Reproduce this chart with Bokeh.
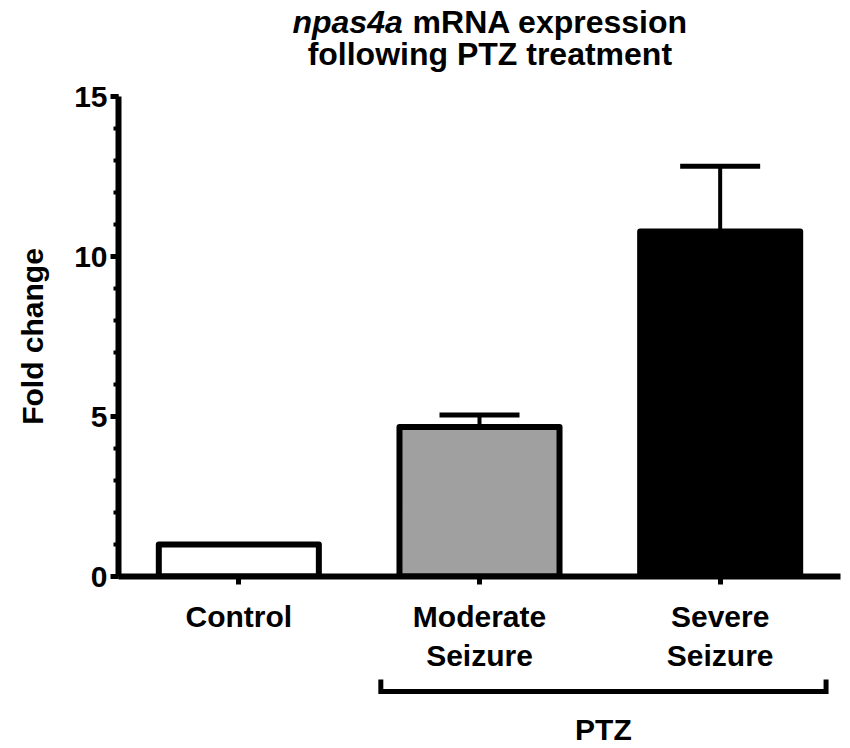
from bokeh.plotting import figure
from bokeh.layouts import column
from bokeh.models import (ColumnDataSource, Range1d, FactorRange, Whisker, TeeHead,
                          Label, SingleIntervalTicker)
from bokeh.embed import file_html
from bokeh.resources import INLINE

# ---- data ----
categories = ["Control", "Moderate\nSeizure", "Severe\nSeizure"]
fold_change = [1.0, 4.67, 10.78]
sem = [0.0, 0.38, 2.04]
bar_colors = ["white", "#a0a0a0", "black"]
group_label = "PTZ"
group_members = ["Moderate\nSeizure", "Severe\nSeizure"]
y_min, y_max, y_step = 0, 15, 5

FONT = "Liberation Sans"
W = 850
LEFT, RIGHT = 118, 10
FRAME_H = 481
TOP_H, MAIN_TOP, MAIN_BOTTOM, BOTTOM_H = 76, 20, 98, 73
u = (y_max - y_min) / FRAME_H          # data units per pixel on the y scale

x_range = FactorRange(*categories)


def bare(height, y0, y1):
    f = figure(width=W, height=height, x_range=x_range, y_range=Range1d(y0, y1),
               output_backend="svg", toolbar_location=None, title=None,
               x_axis_location=None, y_axis_location=None,
               min_border_left=LEFT, min_border_right=RIGHT,
               min_border_top=0, min_border_bottom=0)
    f.xgrid.visible = False
    f.ygrid.visible = False
    f.outline_line_color = None
    return f


# ---- title strip ----
pt = bare(TOP_H, y_max + MAIN_TOP * u, y_max + (MAIN_TOP + TOP_H) * u)
title_style = dict(text_baseline="middle", text_font=FONT, text_font_size="32px",
                   text_color="black")
pt.add_layout(Label(x=1.181, y=17.323, text="npas4a", text_align="right",
                    text_font_style="bold italic", **title_style))
pt.add_layout(Label(x=1.222, y=17.323, text="mRNA expression", text_align="left",
                    text_font_style="bold", **title_style))
pt.add_layout(Label(x=1.543, y=16.325, text="following PTZ treatment", text_align="center",
                    text_font_style="bold", **title_style))

# ---- main chart ----
p = figure(width=W, height=MAIN_TOP + FRAME_H + MAIN_BOTTOM,
           x_range=x_range, y_range=Range1d(y_min, y_max),
           output_backend="svg", toolbar_location=None, title=None,
           min_border_left=LEFT, min_border_right=RIGHT,
           min_border_top=MAIN_TOP, min_border_bottom=MAIN_BOTTOM)
p.xgrid.visible = False
p.ygrid.visible = False
p.outline_line_color = None

src = ColumnDataSource(dict(cat=categories, val=fold_change, color=bar_colors))
p.vbar(x="cat", top="val", width=0.665, source=src, fill_color="color",
       line_color="black", line_width=6, line_join="round")

idx = [i for i, e in enumerate(sem) if e > 0]
err_src = ColumnDataSource(dict(cat=[categories[i] for i in idx],
                                lower=[fold_change[i] for i in idx],
                                upper=[fold_change[i] + sem[i] for i in idx]))
p.add_layout(Whisker(source=err_src, base="cat", lower="lower", upper="upper",
                     dimension="height", line_width=4, line_color="black",
                     upper_head=TeeHead(size=80, line_width=5, line_color="black"),
                     lower_head=None))

for ax in (p.xaxis[0], p.yaxis[0]):
    ax.axis_line_width = 6
    ax.axis_line_color = "black"
    ax.major_tick_line_width = 5
    ax.major_tick_line_color = "black"
    ax.major_tick_in = 0
    ax.major_tick_out = 8
    ax.major_label_text_font = FONT
    ax.major_label_text_font_style = "bold"
    ax.major_label_text_font_size = "30px"
    ax.major_label_text_color = "black"

p.yaxis.ticker = SingleIntervalTicker(interval=y_step, num_minor_ticks=5)
p.yaxis.minor_tick_in = 0
p.yaxis.minor_tick_out = 5
p.yaxis.minor_tick_line_width = 4
p.yaxis.minor_tick_line_color = "black"
p.yaxis.major_label_standoff = 3
p.yaxis.axis_label = "Fold change"
p.yaxis.axis_label_text_font = FONT
p.yaxis.axis_label_text_font_style = "bold"
p.yaxis.axis_label_text_font_size = "30px"
p.yaxis.axis_label_text_color = "black"
p.yaxis.axis_label_standoff = 22

p.xaxis.major_label_standoff = 15
p.xaxis.major_label_text_line_height = 1.2

# ---- PTZ bracket strip ----
pb = bare(BOTTOM_H, y_min - (MAIN_BOTTOM + BOTTOM_H) * u, y_min - MAIN_BOTTOM * u)
pos = {c: i + 0.5 for i, c in enumerate(categories)}
gx0 = min(pos[c] for c in group_members) - 0.41
gx1 = max(pos[c] for c in group_members) + 0.44
gy, gy_top = -3.555, -3.18
pb.line(x=[gx0, gx0, gx1, gx1], y=[gy_top, gy, gy, gy_top], line_width=5,
        line_color="black", line_join="miter")
pb.add_layout(Label(x=(gx0 + gx1) / 2, y=-4.74, text=group_label, text_align="center",
                    text_baseline="middle", text_font=FONT, text_font_style="bold",
                    text_font_size="30px", text_color="black"))

layout = column(pt, p, pb, spacing=0)
open("out.html", "w").write(file_html(layout, INLINE))
